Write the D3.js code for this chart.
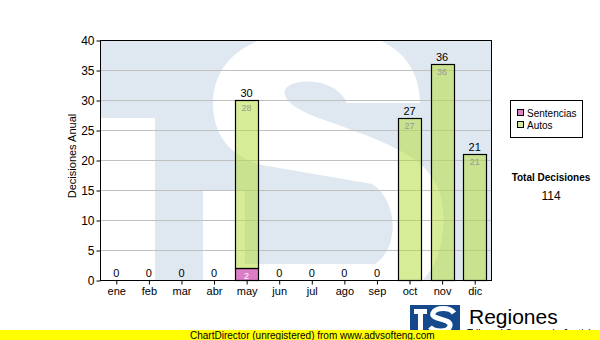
<!DOCTYPE html>
<html>
<head>
<meta charset="utf-8">
<script src="https://cdn.jsdelivr.net/npm/d3@7"></script>
<style>
  body { margin: 0; background: #fff; }
  text { font-family: "Liberation Sans", Arial, sans-serif; }
</style>
</head>
<body>
<script>
var months = ['ene', 'feb', 'mar', 'abr', 'may', 'jun', 'jul', 'ago', 'sep', 'oct', 'nov', 'dic'];
var sentencias = [0, 0, 0, 0, 2, 0, 0, 0, 0, 0, 0, 0];
var autos = [0, 0, 0, 0, 28, 0, 0, 0, 0, 27, 36, 21];
var seriesNames = ['Sentencias', 'Autos'];
var seriesColors = ['#dc7ec6', 'rgb(182,221,68)'];
var yTicks = [0, 5, 10, 15, 20, 25, 30, 35, 40];
var totalLabel = 'Total Decisiones';

var W = 600, H = 340;
var pL = 100, pR = 491, pT = 40, pB = 280;

var svg = d3.select('body').append('svg')
    .attr('width', W)
    .attr('height', H);

var x = d3.scaleBand()
    .domain(months)
    .range([pL, pR])
    .paddingInner(0.3)
    .paddingOuter(0.15);

var y = d3.scaleLinear()
    .domain([0, 40])
    .range([pB, pT]);

// watermark ("TS" logo) in the plot area
svg.append('clipPath').attr('id', 'plotclip')
    .append('rect')
    .attr('x', pL).attr('y', pT)
    .attr('width', pR - pL).attr('height', pB - pT);

var wm = svg.append('g').attr('clip-path', 'url(#plotclip)');
wm.append('rect')
    .attr('x', pL).attr('y', pT)
    .attr('width', pR - pL).attr('height', pB - pT)
    .attr('fill', '#dfe8f1');
wm.append('rect')
    .attr('x', pL).attr('y', 118)
    .attr('width', 55).attr('height', 170)
    .attr('fill', '#fff');
wm.append('path')
    .attr('d', 'M347,103 L420,103 C420,70 400,32 330,30 C250,28 212,60 213,105 ' +
        'C214,140 235,158 262,165 L372,184 C398,200 400,248 375,264 L245,264 L245,190 ' +
        'L203,190 L203,290 L405,290 C448,278 452,200 432,178 C420,155 380,140 330,122 ' +
        'C300,112 282,102 285,90 C290,78 335,76 347,103 Z')
    .attr('fill', '#fff');

// grid
svg.append('g').selectAll('line')
    .data(yTicks.filter(function(d) { return d > 0 && d < 40; }))
    .enter().append('line')
    .attr('x1', pL).attr('x2', pR)
    .attr('y1', function(d) { return y(d) + 0.5; })
    .attr('y2', function(d) { return y(d) + 0.5; })
    .attr('stroke', '#c0c0c0');

// stacked bars
var rows = months.map(function(m, i) {
    return { month: m, Sentencias: sentencias[i], Autos: autos[i] };
});
var stack = d3.stack().keys(seriesNames)(rows);

var layers = svg.append('g').selectAll('g')
    .data(stack)
    .enter().append('g');

layers.selectAll('rect')
    .data(function(d, k) { return d.map(function(p) { return { p: p, k: k }; }); })
    .enter().filter(function(d) { return d.p[1] > d.p[0]; })
    .append('rect')
    .attr('x', function(d) { return Math.round(x(d.p.data.month)) + 0.5; })
    .attr('y', function(d) { return y(d.p[1]) + 0.5; })
    .attr('width', Math.round(x.bandwidth()))
    .attr('height', function(d) { return y(d.p[0]) - y(d.p[1]); })
    .attr('fill', function(d) { return seriesColors[d.k]; })
    .attr('fill-opacity', function(d) { return d.k === 1 ? 0.56 : 1; })
    .attr('stroke', '#000')
    .attr('stroke-width', 1.2);

// segment labels
layers.selectAll('text')
    .data(function(d, k) { return d.map(function(p) { return { p: p, k: k }; }); })
    .enter().filter(function(d) { return d.p[1] > d.p[0]; })
    .append('text')
    .attr('x', function(d) { return x(d.p.data.month) + x.bandwidth() / 2; })
    .attr('y', function(d) { return y(d.p[1]) + 11; })
    .attr('text-anchor', 'middle')
    .attr('font-size', 9)
    .attr('fill', function(d) { return d.k === 0 ? '#fff' : '#999'; })
    .text(function(d) { return d.p[1] - d.p[0]; });

// totals
svg.append('g').selectAll('text')
    .data(rows)
    .enter().append('text')
    .attr('x', function(d) { return x(d.month) + x.bandwidth() / 2; })
    .attr('y', function(d) { return y(d.Sentencias + d.Autos) - 3; })
    .attr('text-anchor', 'middle')
    .attr('font-size', 11)
    .attr('fill', '#000')
    .text(function(d) { return d.Sentencias + d.Autos; });

// plot frame
svg.append('rect')
    .attr('x', pL + 0.5).attr('y', pT + 0.5)
    .attr('width', pR - pL).attr('height', pB - pT)
    .attr('fill', 'none')
    .attr('stroke', '#000');

// axes
var yAxis = svg.append('g')
    .attr('transform', 'translate(' + (pL + 0.5) + ',0.5)')
    .call(d3.axisLeft(y).tickValues(yTicks).tickSize(4).tickSizeOuter(0).tickPadding(2));
yAxis.select('.domain').remove();
yAxis.selectAll('text').attr('font-size', 12).attr('font-family', '"Liberation Sans", Arial, sans-serif').attr('fill', '#000');

var xAxis = svg.append('g')
    .attr('transform', 'translate(0.5,' + (pB + 0.5) + ')')
    .call(d3.axisBottom(x).tickSize(4).tickSizeOuter(0).tickPadding(3));
xAxis.select('.domain').remove();
xAxis.selectAll('text').attr('font-size', 11).attr('font-family', '"Liberation Sans", Arial, sans-serif').attr('fill', '#000');

svg.append('text')
    .attr('transform', 'translate(76,156) rotate(-90)')
    .attr('text-anchor', 'middle')
    .attr('font-size', 11)
    .text('Decisiones Anual');

// legend
var lg = svg.append('g');
lg.append('rect')
    .attr('x', 510.5).attr('y', 100.5)
    .attr('width', 72).attr('height', 37)
    .attr('fill', '#fff')
    .attr('stroke', '#000');
var items = lg.selectAll('g.item')
    .data(seriesNames)
    .enter().append('g')
    .attr('transform', function(d, i) { return 'translate(517,' + (109 + i * 12) + ')'; });
items.append('rect')
    .attr('x', 0.5).attr('y', 0.5)
    .attr('width', 6).attr('height', 6)
    .attr('fill', function(d, i) { return i === 1 ? '#d4eb96' : seriesColors[i]; })
    .attr('stroke', '#000');
items.append('text')
    .attr('x', 10).attr('y', 7.5)
    .attr('font-size', 10)
    .text(function(d) { return d; });

var total = d3.sum(sentencias) + d3.sum(autos);
svg.append('text')
    .attr('x', 551).attr('y', 181)
    .attr('text-anchor', 'middle')
    .attr('font-size', 10)
    .attr('font-weight', 'bold')
    .text(totalLabel);
svg.append('text')
    .attr('x', 551).attr('y', 200)
    .attr('text-anchor', 'middle')
    .attr('font-size', 12)
    .text(total);

// logo
var logo = svg.append('g');
logo.append('rect')
    .attr('x', 410).attr('y', 305)
    .attr('width', 50).attr('height', 30)
    .attr('fill', '#16498c');
logo.append('rect')
    .attr('x', 414).attr('y', 309)
    .attr('width', 13).attr('height', 5)
    .attr('fill', '#fff');
logo.append('rect')
    .attr('x', 418).attr('y', 309)
    .attr('width', 5).attr('height', 22)
    .attr('fill', '#fff');
logo.append('path')
    .attr('d', 'M454,313 C450,307 436,307 433,313 C430,320 452,318 450,326 C448,333 434,332 430,327')
    .attr('fill', 'none')
    .attr('stroke', '#fff')
    .attr('stroke-width', 5);
svg.append('text')
    .attr('x', 469).attr('y', 324)
    .attr('font-size', 21)
    .text('Regiones');
svg.append('text')
    .attr('x', 467).attr('y', 337)
    .attr('font-size', 10)
    .text('Tribunal Supremo de Justicia');

// footer
svg.append('rect')
    .attr('x', 0).attr('y', 330)
    .attr('width', W).attr('height', 10)
    .attr('fill', '#ffff00');
svg.append('text')
    .attr('x', 190).attr('y', 338.5)
    .attr('font-size', 10)
    .text('ChartDirector (unregistered) from www.advsofteng.com');
</script>
</body>
</html>
